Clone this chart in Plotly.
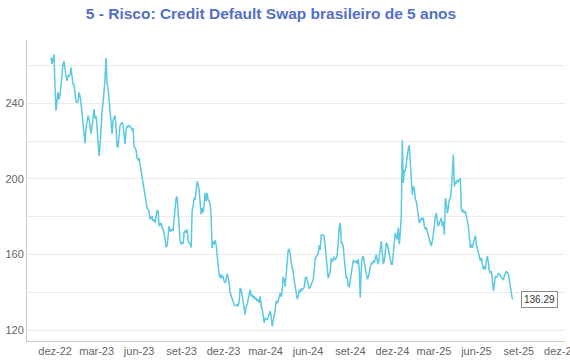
import pandas as pd
import plotly.graph_objects as go

title_text = "5 - Risco: Credit Default Swap brasileiro de 5 anos"
start_date = "2022-11-22"
end_date = "2025-08-18"

cds_values = [
    264.4, 261, 263.5, 266, 249, 236, 241.5, 246, 242, 244.6,
    249.4, 255.6, 261, 262.3, 256.5, 254.7, 252, 254.7, 254.5, 255,
    259, 255.6, 250, 250, 246, 241, 240.5, 241, 245.9, 244,
    240, 234.2, 231, 223, 219, 227, 230, 233.5, 231.5, 226,
    224, 228, 233, 237, 232, 233.5, 228, 215.5, 212, 218,
    228, 236, 240, 245, 253, 264, 250.3, 248.5, 242.4, 236.2,
    227.4, 223.9, 231, 233, 233.6, 227.4, 217.2, 217, 224.8, 228.3,
    229.2, 230, 228.3, 223.9, 218.6, 225.6, 227.8, 227.4, 228.3, 228,
    226.8, 226, 226.8, 217.2, 216.3, 215.4, 211, 210.2, 211, 207.5,
    203.2, 200.5, 197, 194.4, 190.9, 187.4, 184.4, 183.9, 183, 178.6,
    179.5, 180.4, 177.7, 178.6, 176.8, 182.1, 183.5, 183, 175, 176,
    176.8, 174.2, 173.3, 171.6, 168, 164.2, 164.6, 169.8, 175, 172.5,
    172.5, 173.3, 172.5, 178.6, 187.4, 190, 190.5, 182.1, 173.3, 167.2,
    165.4, 166.3, 166, 171.6, 172.5, 171.6, 173.3, 167.2, 166.3, 165.4,
    163.7, 183, 185.6, 190, 189.1, 194.4, 198.8, 197, 194.4, 187.4,
    181.2, 184.7, 182.1, 186.5, 192.6,
    188.2, 192.6, 189, 188.2, 186.4, 180.2, 163.5, 167, 165.3, 167.5,
    165.3, 159.1, 152, 149.4, 147.6, 149.4, 147.6, 148.5, 145.9, 145,
    146.7, 149.9, 147.6, 145, 139.7, 137.9, 137, 135.3, 133.5, 133,
    133, 133.5, 132.6, 135.3, 142.3, 141.4, 137.9, 134.4, 130, 128.2,
    132.6, 133.5, 136.2, 138.8, 141.4, 137.9, 138.8, 137, 137.9, 136.2,
    137, 135.3, 136.2, 134.4, 137.9, 132.6, 130.9, 127.3, 123.8, 126.5,
    125.6, 125.6, 127.3, 129.1, 130, 127.3, 122, 124.7, 127.3, 130.9,
    135.3, 134.4, 135.3, 137, 139.7,
    137.6, 141.2, 148.2, 146.5, 142.9, 150.9, 156.2, 162.4, 162.7, 160.6,
    155.3, 153.5, 150.9, 146.5, 142.1, 138.5, 136.4, 137.6, 141.2, 139.8,
    142.1, 141.2, 142.1, 142.6, 147.4, 148.2, 146.5, 143.8, 142.1, 142.6,
    144.7, 145.6, 146.5, 151.8, 158, 158.8, 159.7, 160.6, 165, 162.4,
    170.3, 170.3, 170.3, 169.4, 164.1, 156.2, 152.6, 147.4, 149.1, 150.9,
    158, 156.2, 157.1, 158.8, 157.1, 158, 159.7, 169.4, 174.7, 176.8,
    165.9, 165.9, 164.1, 158, 151.8, 147.4, 147.9, 143.3, 142.9, 147.4,
    150, 153.5, 157.1, 156.2, 156.2,
    156.6, 154.9, 157.5, 152.2, 137.3, 152.2, 158.4, 159.2, 155.7, 154,
    148.7, 147, 147.8, 151.3, 154.3, 155.7, 154.9, 156.6, 155.7, 157.5,
    160.1, 156.6, 154.9, 159.2, 165.4, 167.1, 161, 154.9, 156.6, 162.7,
    166.2, 165.4, 162.7, 158.4, 155.7, 154.9, 154.9, 161, 166.2, 171.5,
    169.7, 168, 174.1, 165.4, 171.5, 182, 220.5, 197.9, 204.8, 203.9,
    208.3, 213.5, 216.1, 217.9, 204.8, 199.5, 191.6, 196, 195.1, 189,
    188.1, 184.5, 182, 176.7, 177.6, 179.4, 178.5, 179.4, 175, 173.6,
    174, 172.4, 169.7, 168, 166.2, 164.5, 167.1, 173.2, 175, 180.2,
    182, 177.6, 175, 176.7,
    178.4, 179.3, 174.9, 177.5, 170.5, 189.8, 187.2, 181.9, 184.6, 189,
    189.8, 194.2, 203, 213, 196, 198.6, 197.7, 199.5, 198.6, 199.8,
    200.4, 183.7, 182.8, 183.7, 181.9, 182.8, 180.2, 179.3, 174.9, 169.6,
    163.5, 165.3, 163.5, 166.1, 168.8, 170, 165.3, 161.8, 160.9, 159.1,
    156.5, 158.2, 155.6, 152.1, 153.9, 152.1, 156.5, 159.1, 155.6, 151.2,
    150.4, 151.2, 146.8, 140.7, 144.2, 148.6, 147.7, 148.6, 150, 149.5,
    148.6, 147.7, 146.8, 146.5, 148.6, 150, 151.2, 150.4, 150, 146,
    142.5, 139.8, 136.29,
]

x_tick_dates = [
    "2022-12-01", "2023-03-01", "2023-06-01", "2023-09-01",
    "2023-12-01", "2024-03-01", "2024-06-01", "2024-09-01",
    "2024-12-01", "2025-03-01", "2025-06-01", "2025-09-01", "2025-12-01",
]
x_tick_labels = [
    "dez-22", "mar-23", "jun-23", "set-23", "dez-23", "mar-24", "jun-24",
    "set-24", "dez-24", "mar-25", "jun-25", "set-25", "dez-25",
]
y_tick_vals = [120, 140, 160, 180, 200, 220, 240, 260]
y_tick_labels = ["120", "", "160", "", "200", "", "240", ""]

dates = pd.date_range(start_date, end_date, periods=len(cds_values))

fig = go.Figure()
fig.add_trace(go.Scatter(
    x=dates, y=cds_values, mode="lines",
    line=dict(color="#5BC9E1", width=1.5),
    hoverinfo="x+y", showlegend=False,
))

fig.add_annotation(
    x=dates[-1], y=cds_values[-1], text=f"{cds_values[-1]:.2f}",
    showarrow=False, xanchor="left", yanchor="middle", xshift=9,
    font=dict(size=10, color="#333333", family="Liberation Sans"),
    bgcolor="white", bordercolor="#8a8a8a", borderwidth=1, borderpad=2,
)

fig.update_layout(
    width=570, height=360,
    margin=dict(l=27, r=5, t=40, b=19, autoexpand=False),
    paper_bgcolor="white", plot_bgcolor="white",
    font=dict(family="Liberation Sans", size=11, color="#666666"),
    title=dict(
        text=f"<b>{title_text}</b>", x=271 / 570, xanchor="center",
        xref="container", y=1 - 14 / 360, yanchor="middle",
        font=dict(size=15.5, color="#5470C6", family="Liberation Sans"),
    ),
    xaxis=dict(
        type="date", range=["2022-10-01", "2025-12-10"],
        tickvals=x_tick_dates, ticktext=x_tick_labels, automargin=False,
        ticklabeloverflow="allow",
        showgrid=False, showline=True, linecolor="#cccccc", linewidth=1,
        ticks="", tickfont=dict(size=11, color="#666666"), zeroline=False,
    ),
    yaxis=dict(
        range=[114.2, 273.6], tickvals=y_tick_vals, ticktext=y_tick_labels,
        automargin=False,
        showgrid=True, gridcolor="#ebebeb", gridwidth=1,
        showline=True, linecolor="#cccccc", linewidth=1,
        ticks="", tickfont=dict(size=11, color="#666666"), zeroline=False,
    ),
)

fig.write_html(
    "out.html",
    config={"displayModeBar": False},
    post_script="document.body.style.margin='0';document.body.style.padding='0';",
)
